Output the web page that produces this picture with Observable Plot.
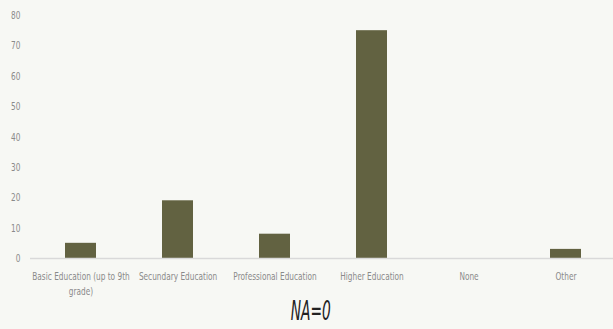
<!DOCTYPE html>
<html>
<head>
<meta charset="utf-8">
<script src="https://cdn.jsdelivr.net/npm/d3@7"></script>
<script src="https://cdn.jsdelivr.net/npm/@observablehq/plot@0.6"></script>
<style>
  html, body { margin: 0; padding: 0; background: #f7f8f4; }
  #chart { width: 613px; }
  #caption {
    width: 613px; text-align: center; margin-top: -2px; margin-left: 4px;
    font-family: "DejaVu Sans", sans-serif;
    font-style: italic; font-size: 26px; line-height: 26px; color: #222;
  }
  #caption span { display: inline-block; transform: scaleX(0.53); }
</style>
</head>
<body>
<div id="chart"></div>
<script>
const categories = [
  "Basic Education (up to 9th grade)",
  "Secundary Education",
  "Professional Education",
  "Higher Education",
  "None",
  "Other"
];
const tickLabels = [
  "Basic Education (up to 9th\ngrade)",
  "Secundary Education",
  "Professional Education",
  "Higher Education",
  "None",
  "Other"
];
const values = [5, 19, 8, 75, 0, 3];
const yTicks = [0, 10, 20, 30, 40, 50, 60, 70, 80];
const captionText = "NA=0";

const data = categories.map((c, i) => ({category: c, value: values[i]}));
const labelOf = new Map(categories.map((c, i) => [c, tickLabels[i]]));

const plot = Plot.plot({
  width: 613,
  height: 300,
  marginTop: 15,
  marginLeft: 30,
  marginRight: 0,
  marginBottom: 42,
  style: {
    background: "#f7f8f4",
    fontFamily: "'DejaVu Sans', sans-serif",
    fontSize: "11px",
    color: "#8a8a8a"
  },
  x: {domain: categories, range: [30, 617], paddingInner: 0.68, paddingOuter: 0.34},
  y: {domain: [0, 80]},
  marks: [
    Plot.barY(data, {x: "category", y: "value", fill: "#626241"}),
    Plot.ruleY([0], {stroke: "#d9d9d9", strokeWidth: 1.5}),
    Plot.axisX({
      tickSize: 0, tickPadding: 11, label: null,
      tickFormat: d => labelOf.get(d), lineHeight: 1.36,
      fill: "#8a8a8a", fontSize: 11
    }),
    Plot.axisY({
      ticks: yTicks, tickSize: 0, tickPadding: 10, label: null,
      fill: "#8a8a8a", fontSize: 11
    })
  ]
});
// condense the axis text horizontally (the reference uses a narrow typeface)
plot.querySelectorAll('g[aria-label$="tick label"] text').forEach(t => {
  const tr = t.getAttribute("transform") || "";
  t.setAttribute("transform", tr + " scale(0.67,1)");
});
document.getElementById("chart").appendChild(plot);
const cap = document.createElement("div");
cap.id = "caption";
const span = document.createElement("span");
span.textContent = captionText;
cap.appendChild(span);
document.body.appendChild(cap);
</script>
</body>
</html>
